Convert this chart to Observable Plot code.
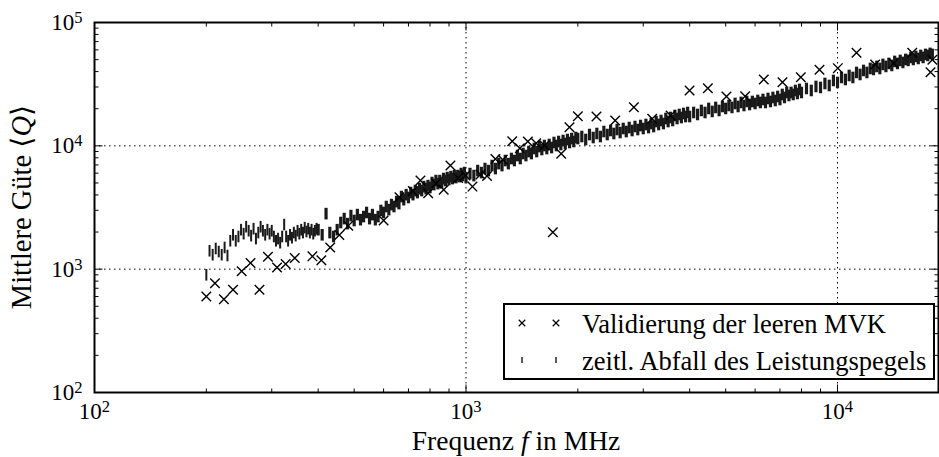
<!DOCTYPE html>
<html><head><meta charset="utf-8">
<script src="https://cdn.jsdelivr.net/npm/d3@7"></script>
<script src="https://cdn.jsdelivr.net/npm/@observablehq/plot@0.6"></script>
<style>html,body{margin:0;padding:0;background:#fff;} svg{display:block}</style>
</head><body><div id="chart"></div>
<script>
// Validierung der leeren MVK (crosses)
const validFreq = [200,211,223,236,249,263,278,293,310,327,346,386,408,431,456,482,600,662,719,754,791,830,871,908,952,997,1041,1094,1139,1200,1256,1332,1396,1467,1545,1627,1713,1804,1899,2000,2245,2521,2830,3171,3553,3997,4477,5025,5641,6332,7110,7965,8943,10020,11250,12630,14170,15890,18000,17800];
const validQ = [600,770,570,680,960,1120,680,1260,1030,1100,1230,1270,1180,1500,1890,2250,2480,3830,4300,5230,4120,4940,4400,6920,5480,5740,4670,5850,5690,7810,7700,10900,9560,10840,10500,10060,1990,8610,14160,17390,17290,16050,20570,16560,17620,28120,29350,25130,25270,34520,32830,36050,41400,42660,56880,45700,46830,56880,49890,39550];

// zeitl. Abfall des Leistungspegels (vertical-bar markers)
const pegelFreq = [
200,204,208,212,216,220,224,228,232,236,240,244,248,252,256,260,264,268,272,276,280,284,288,292,296,300,304,308,312,316,320,324,328,332,336,340,344,348,352,356,360,364,368,372,376,380,384,388,392,396,
400,410,420,430,440,450,460,470,480,490,500,510,520,530,540,550,560,570,580,590,600,610,620,630,640,650,660,670,680,690,700,710,720,730,740,750,760,770,780,790,800,810,820,830,840,850,860,870,880,890,900,910,920,930,940,950,960,970,980,990,
1000,1025,1050,1075,1100,1125,1150,1175,1200,1225,1250,1275,1300,1325,1350,1375,1400,1425,1450,1475,1500,1525,1550,1575,1600,1625,1650,1675,1700,1725,1750,1775,1800,1825,1850,1875,1900,1925,1950,1975,
2000,2050,2100,2150,2200,2250,2300,2350,2400,2450,2500,2550,2600,2650,2700,2750,2800,2850,2900,2950,3000,3050,3100,3150,3200,3250,3300,3350,3400,3450,3500,3550,3600,3650,3700,3750,3800,3850,3900,3950,
4000,4100,4200,4300,4400,4500,4600,4700,4800,4900,5000,5100,5200,5300,5400,5500,5600,5700,5800,5900,6000,6100,6200,6300,6400,6500,6600,6700,6800,6900,7000,7100,7200,7300,7400,7500,7600,7700,7800,7900,
8000,8250,8500,8750,9000,9250,9500,9750,10000,10250,10500,10750,11000,11250,11500,11750,12000,12250,12500,12750,13000,13250,13500,13750,14000,14250,14500,14750,15000,15250,15500,15750,16000,16250,16500,16750,17000,17250,17500,17750,18000];
const pegelQ = [
900,1410,1310,1470,1390,1310,1500,1290,1700,1900,1700,1840,2090,1940,2210,2050,1870,2130,1770,1980,2210,2050,1900,2090,1940,2050,1840,1700,1770,1640,1840,2300,1840,1700,1900,1800,1980,1870,2050,1940,2090,1980,2170,2020,2130,1980,2090,1940,2050,2130,
2090,1900,2820,1980,1840,2090,2390,2570,2340,2720,2480,2770,2520,2670,2880,2570,2770,2520,2670,2990,2880,3220,3040,3340,3220,3530,3400,3880,3660,4020,3810,4180,4020,4340,4180,4500,4340,4670,4500,4760,4590,5040,4850,5230,4940,5230,5040,5430,5230,5530,5330,5630,5430,5740,5530,5740,5630,5960,5740,6070,
5530,5960,5740,6300,6070,6540,6300,6920,6540,7180,6920,7600,7180,7890,7600,8340,7890,8660,8340,8990,8660,9510,8990,9870,9330,10060,9510,10250,9690,10640,10060,10840,10250,11040,10440,11250,10640,11460,10840,11680,
11460,11900,11250,12350,11680,12590,11900,13060,12350,13310,12590,13560,12820,13820,13060,14070,13310,14340,13560,14610,13820,14890,14070,15170,14340,15750,14890,16050,15170,16660,15750,16970,16050,17620,16660,17960,16970,18300,17290,18640,
17290,18640,17960,19350,18640,20090,19000,20470,19350,20850,20090,21240,20470,22050,20850,22470,21240,22890,21640,22890,22050,23320,22470,23760,22470,24210,22890,24660,23320,25130,23760,26090,24660,27080,25600,27080,26090,28110,26580,28640,
27080,29180,28110,30290,29730,32040,30860,33880,32640,35840,34520,37200,35840,39360,37900,40850,39360,42410,41620,44040,42410,45710,44040,46570,44870,48340,46570,49250,47450,50170,49250,52080,50170,53060,51120,54070,52080,55100,54070,56150,55100];

const xDomain = [100, 18700];
const yDomain = [100, 100000];
const xMajorTicks = [100, 1000, 10000];
const xTickLabels = ["10^2", "10^3", "10^4"];
const yMajorTicks = [100, 1000, 10000, 100000];
const yTickLabels = ["10^2", "10^3", "10^4", "10^5"];
const xMinorTicks = [200,300,400,500,600,700,800,900,2000,3000,4000,5000,6000,7000,8000,9000];
const yMinorTicks = [200,300,400,500,600,700,800,900,2000,3000,4000,5000,6000,7000,8000,9000,20000,30000,40000,50000,60000,70000,80000,90000];
const xGrid = [1000, 10000];
const yGrid = [1000, 10000];
const xTitle = ["Frequenz ", "f", " in MHz"];
const yTitle = ["Mittlere Güte ⟨", "Q", "⟩"];
const legendLabels = ["Validierung der leeren MVK", "zeitl. Abfall des Leistungspegels"];

const valid = validFreq.map((f, i) => ({f, q: validQ[i]}));
const pegel = pegelFreq.map((f, i) => ({f, q: pegelQ[i]}));

const FONT = "'Liberation Serif', 'DejaVu Serif', serif";
const seg = (dx, dy) => ({draw(ctx, size) { const l = Math.sqrt(size / Math.PI); ctx.moveTo(0, 0); ctx.lineTo(dx * l, dy * l); }});
const vbar = {draw(ctx, size) { const l = Math.sqrt(size / Math.PI); ctx.moveTo(0, -l); ctx.lineTo(0, l); }};
const tickOpts = {fill: "none", stroke: "black", strokeWidth: 1};

const chart = Plot.plot({
  width: 939, height: 457,
  marginLeft: 94, marginRight: 1, marginTop: 22, marginBottom: 65,
  x: {type: "log", domain: xDomain, axis: null},
  y: {type: "log", domain: yDomain, axis: null},
  style: {fontFamily: FONT, fontSize: "23px", background: "white", color: "black"},
  marks: [
    Plot.ruleX(xGrid, {stroke: "black", strokeWidth: 1, strokeDasharray: "1.5,3.5"}),
    Plot.ruleY(yGrid, {stroke: "black", strokeWidth: 1, strokeDasharray: "1.5,3.5"}),
    Plot.dot(pegel, {x: "f", y: "q", symbol: vbar, r: 5.8, fill: "none", stroke: "#1a1a1a",
      strokeWidth: d => (d.f < 400 ? 2 : 3.2)}),
    Plot.dot(valid, {x: "f", y: "q", symbol: "times", r: 4.4, fill: "none", stroke: "black", strokeWidth: 1.4}),
    // inward ticks on all four sides
    Plot.dot(xMajorTicks, {x: d => d, y: () => yDomain[0], symbol: seg(0, -1), r: 8, ...tickOpts}),
    Plot.dot(xMinorTicks, {x: d => d, y: () => yDomain[0], symbol: seg(0, -1), r: 4, ...tickOpts}),
    Plot.dot(xMajorTicks, {x: d => d, y: () => yDomain[1], symbol: seg(0, 1), r: 8, ...tickOpts}),
    Plot.dot(xMinorTicks, {x: d => d, y: () => yDomain[1], symbol: seg(0, 1), r: 4, ...tickOpts}),
    Plot.dot(yMajorTicks, {y: d => d, x: () => xDomain[0], symbol: seg(1, 0), r: 8, ...tickOpts}),
    Plot.dot(yMinorTicks, {y: d => d, x: () => xDomain[0], symbol: seg(1, 0), r: 4, ...tickOpts}),
    Plot.dot(yMajorTicks, {y: d => d, x: () => xDomain[1], symbol: seg(-1, 0), r: 8, ...tickOpts}),
    Plot.dot(yMinorTicks, {y: d => d, x: () => xDomain[1], symbol: seg(-1, 0), r: 4, ...tickOpts}),
    Plot.frame({stroke: "black", strokeWidth: 2}),
    // tick labels
    Plot.text(xMajorTicks, {x: d => d, y: () => yDomain[0], text: (d, i) => xTickLabels[i], dy: 19, textAnchor: "middle", fill: "black"}),
    Plot.text(yMajorTicks, {x: () => xDomain[0], y: d => d, text: (d, i) => yTickLabels[i], dx: -12, textAnchor: "end", fill: "black"})
  ]
});
document.getElementById("chart").appendChild(chart);

const NS = "http://www.w3.org/2000/svg";
// superscripts for tick labels
chart.querySelectorAll("text").forEach(t => {
  const m = /^10\^(\d)$/.exec(t.textContent);
  if (m) {
    t.textContent = "10";
    const ts = document.createElementNS(NS, "tspan");
    ts.setAttribute("dy", "-0.42em");
    ts.setAttribute("font-size", "0.72em");
    ts.textContent = m[1];
    t.appendChild(ts);
  }
});

const svg = d3.select(chart);
function richText(sel, parts) {
  parts.forEach((p, i) => {
    sel.append("tspan").attr("font-style", i === 1 ? "italic" : null).text(p);
  });
}
// axis titles
richText(svg.append("text").attr("x", 516).attr("y", 450).attr("text-anchor", "middle")
  .attr("font-family", FONT).attr("font-size", 27.5).attr("fill", "black"), xTitle);
richText(svg.append("text").attr("transform", "translate(31,207) rotate(-90)").attr("text-anchor", "middle")
  .attr("font-family", FONT).attr("font-size", 28.5).attr("fill", "black"), yTitle);

// legend
const lg = svg.append("g");
lg.append("rect").attr("x", 504).attr("y", 304).attr("width", 430).attr("height", 75)
  .attr("fill", "white").attr("stroke", "black").attr("stroke-width", 2);
const rows = [323, 360];
[522, 556].forEach(mx => {
  lg.append("path").attr("d", d3.symbol(d3.symbolTimes, 30)()).attr("transform", `translate(${mx},${rows[0]})`)
    .attr("fill", "none").attr("stroke", "black").attr("stroke-width", 1.2);
  lg.append("line").attr("x1", mx).attr("x2", mx).attr("y1", rows[1] - 3).attr("y2", rows[1] + 3)
    .attr("stroke", "black").attr("stroke-width", 1.3);
});
legendLabels.forEach((t, i) => {
  lg.append("text").attr("x", 582).attr("y", rows[i] + 10).attr("text-anchor", "start")
    .attr("font-family", FONT).attr("font-size", 26.5).attr("fill", "black").text(t);
});
</script>
</body></html>
